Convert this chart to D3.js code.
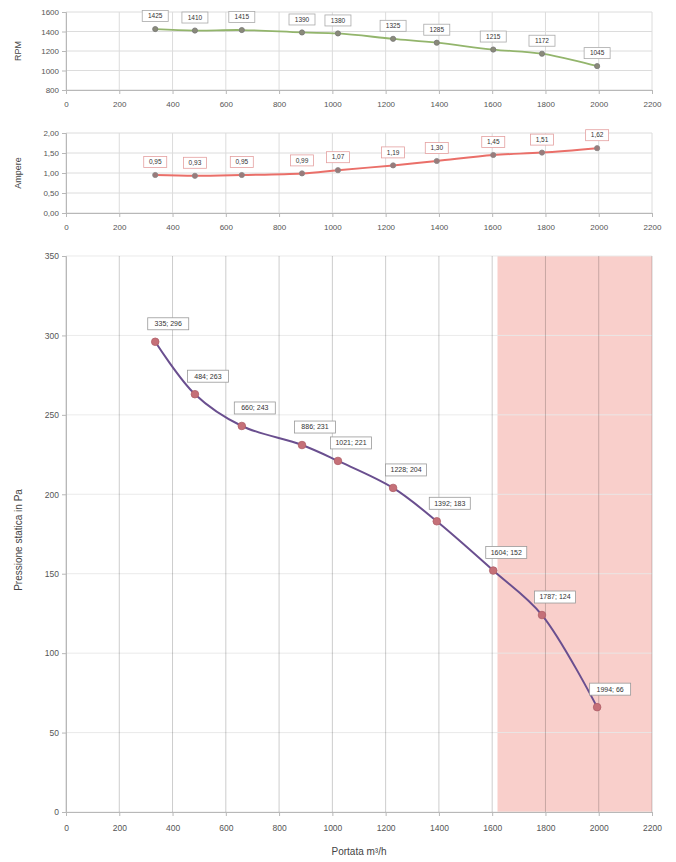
<!DOCTYPE html>
<html><head><meta charset="utf-8">
<script src="https://cdn.jsdelivr.net/npm/d3@7"></script>
<style>
html,body{margin:0;padding:0;background:#fff;}
svg{display:block;font-family:"Liberation Sans",Arial,sans-serif;}
</style></head>
<body><svg id="c" width="676" height="862"></svg>
<script>
// ---- data ----
const flow = [335, 484, 660, 886, 1021, 1228, 1392, 1604, 1787, 1994];
const rpm = [1425, 1410, 1415, 1390, 1380, 1325, 1285, 1215, 1172, 1045];
const ampere = [0.95, 0.93, 0.95, 0.99, 1.07, 1.19, 1.30, 1.45, 1.51, 1.62];
const pressure = [296, 263, 243, 231, 221, 204, 183, 152, 124, 66];
const xTicks = [0, 200, 400, 600, 800, 1000, 1200, 1400, 1600, 1800, 2000, 2200];
const rpmTicks = [800, 1000, 1200, 1400, 1600];
const ampTicks = [0, 0.5, 1, 1.5, 2];
const presTicks = [0, 50, 100, 150, 200, 250, 300, 350];
const zone = [1620, 2200];
const rpmTitle = "RPM", ampTitle = "Ampere", presTitle = "Pressione statica in Pa", xTitle = "Portata m³/h";

const svg = d3.select("#c");
const X0 = 66, X1 = 652;
const x = d3.scaleLinear().domain([0, 2200]).range([X0, X1]);
const curve = d3.curveCatmullRom.alpha(0.5);
const fmtComma = d => d.toFixed(2).replace(".", ",");

function panel(opt) {
  const y = d3.scaleLinear().domain(opt.domain).range([opt.bottom, opt.top]);
  const g = svg.append("g");
  if (opt.zone) {
    g.append("rect").attr("x", x(opt.zone[0])).attr("y", opt.top)
      .attr("width", x(opt.zone[1]) - x(opt.zone[0])).attr("height", opt.bottom - opt.top)
      .attr("fill", "#f9cfcb");
  }
  // horizontal grid
  g.append("g").selectAll("line").data(opt.yTicks).join("line")
    .attr("x1", X0).attr("x2", X1).attr("y1", d => y(d)).attr("y2", d => y(d))
    .attr("stroke", opt.hGrid).attr("stroke-width", 1);
  // vertical grid
  g.append("g").selectAll("line").data(xTicks).join("line")
    .attr("x1", d => x(d)).attr("x2", d => x(d)).attr("y1", opt.top).attr("y2", opt.bottom)
    .attr("stroke", opt.vGrid).attr("stroke-width", 1);
  // axes
  const ya = d3.axisLeft(y).tickValues(opt.yTicks).tickSize(4).tickFormat(opt.yFmt);
  const ga = g.append("g").attr("transform", `translate(${X0},0)`).call(ya);
  const xa = d3.axisBottom(x).tickValues(xTicks).tickSize(4).tickFormat(d3.format("d"));
  const gx = g.append("g").attr("transform", `translate(0,${opt.bottom})`).call(xa);
  [ga, gx].forEach(a => {
    a.selectAll("path,line").attr("stroke", "#b8b8b8");
    a.selectAll("text").attr("fill", "#555").style("font-size", opt.fs + "px");
  });
  gx.selectAll("text").attr("dy", opt.xdy);
  // title
  g.append("text").attr("transform", `translate(${opt.titleX},${(opt.top + opt.bottom) / 2 + opt.titleDy}) rotate(-90)`)
    .attr("text-anchor", "middle").attr("fill", "#444").style("font-size", opt.tfs + "px").text(opt.title);
  // line
  const pts = flow.map((f, i) => [f, opt.values[i]]);
  g.append("path").datum(pts).attr("fill", "none").attr("stroke", opt.color).attr("stroke-width", opt.lw)
    .attr("d", d3.line().x(d => x(d[0])).y(d => y(d[1])).curve(curve));
  g.append("g").selectAll("circle").data(pts).join("circle")
    .attr("cx", d => x(d[0])).attr("cy", d => y(d[1])).attr("r", opt.r)
    .attr("fill", opt.mfill).attr("stroke", opt.mstroke).attr("stroke-width", 0.8);
  // labels
  const lg = g.append("g").selectAll("g").data(pts).join("g")
    .attr("transform", d => `translate(${x(d[0]) + opt.ldx},${y(d[1]) + opt.ldy})`);
  lg.each(function(d, i) {
    const s = d3.select(this);
    const t = opt.label(d, i);
    const w = opt.lw2(t);
    s.append("rect").attr("x", -w / 2).attr("y", -opt.lh / 2).attr("width", w).attr("height", opt.lh)
      .attr("fill", "#fff").attr("stroke", opt.lstroke).attr("stroke-width", 0.8);
    s.append("text").attr("text-anchor", "middle").attr("dy", "0.35em").attr("fill", "#333")
      .style("font-size", opt.lfs + "px").text(t);
  });
  return y;
}

panel({
  top: 12, bottom: 90, domain: [800, 1600], yTicks: rpmTicks, yFmt: d3.format("d"),
  hGrid: "#dcdcdc", vGrid: "#dcdcdc", fs: 8, xdy: "1.2em",
  title: rpmTitle, titleX: 21, titleDy: 0, tfs: 9,
  values: rpm, color: "#93b56c", lw: 1.8, r: 2.6, mfill: "#8a8a7a", mstroke: "#777",
  ldx: 0, ldy: -13, lh: 11, lfs: 6.5, lstroke: "#aaa", lw2: t => 26,
  label: (d) => String(d[1])
});

panel({
  top: 133, bottom: 213, domain: [0, 2], yTicks: ampTicks, yFmt: fmtComma,
  hGrid: "#dcdcdc", vGrid: "#dcdcdc", fs: 8, xdy: "1.2em",
  title: ampTitle, titleX: 21, titleDy: 0, tfs: 9,
  values: ampere, color: "#ea6f69", lw: 2, r: 2.6, mfill: "#9a7a7a", mstroke: "#888",
  ldx: 0, ldy: -13, lh: 11, lfs: 6.5, lstroke: "#e4a0a0", lw2: t => 23,
  label: (d) => fmtComma(d[1])
});

panel({
  top: 256, bottom: 812, domain: [0, 350], yTicks: presTicks, yFmt: d3.format("d"), zone: zone,
  hGrid: "rgba(232,232,232,0.9)", vGrid: "rgba(0,0,0,0.2)", fs: 8.5, xdy: "1.4em",
  title: presTitle, titleX: 22, titleDy: 6, tfs: 10,
  values: pressure, color: "#6a4f8f", lw: 2, r: 3.8, mfill: "#c57078", mstroke: "#b06068",
  ldx: 13, ldy: -18, lh: 12, lfs: 7, lstroke: "#999", lw2: t => 41,
  label: (d) => `${d[0]}; ${d[1]}`
});

svg.append("text").attr("x", (X0 + X1) / 2).attr("y", 855).attr("text-anchor", "middle")
  .attr("fill", "#444").style("font-size", "10px").text(xTitle);
</script>
</body></html>
